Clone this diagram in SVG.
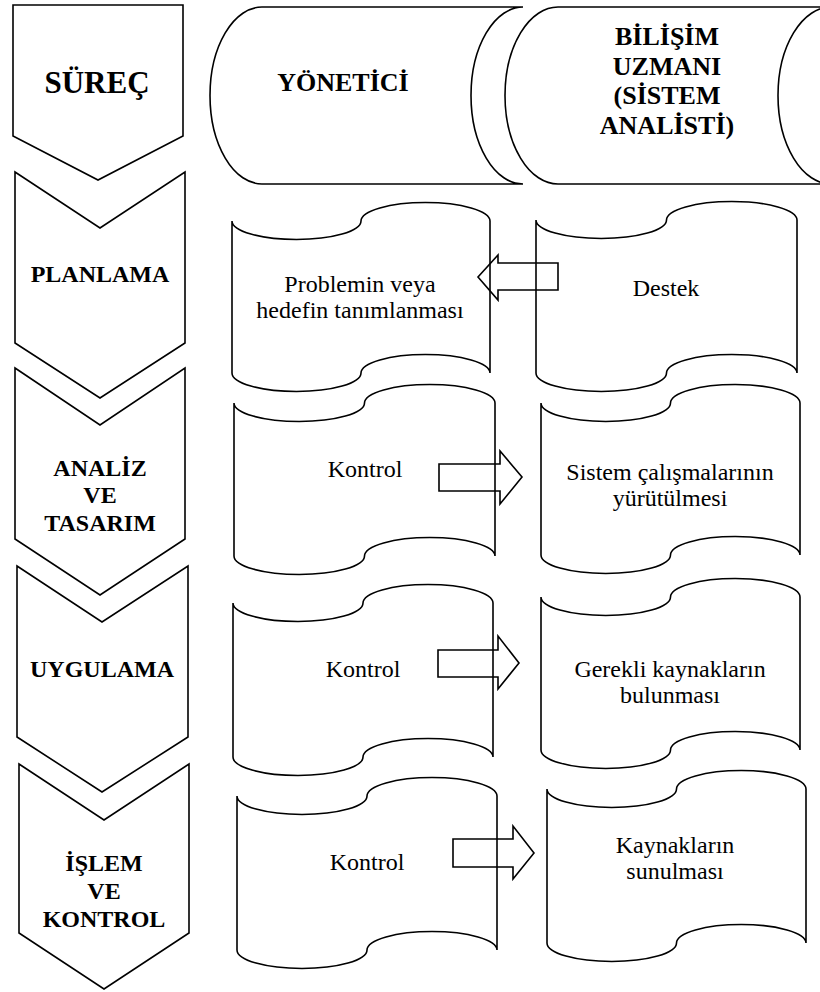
<svg xmlns="http://www.w3.org/2000/svg" width="820" height="992" viewBox="0 0 820 992">
<style>
.s{fill:none;stroke:#000;stroke-width:1.6;stroke-linejoin:miter}
.h{font-family:"Liberation Serif","Times New Roman",serif;font-weight:bold;fill:#000;text-anchor:middle}
.c{font-size:24px}
.t{font-family:"Liberation Serif","Times New Roman",serif;font-size:24px;fill:#000;text-anchor:middle}
</style>
<rect width="820" height="992" fill="#fff"/>
<g id="surec">
<path class="s" d="M13,5 H183 V136 L98,180 L13,136 Z"/>
<text class="h" x="97" y="93" font-size="31">SÜREÇ</text>
</g>
<g id="yonetici">
<path class="s" d="M262,7 H523 A52,88.5 0 0 0 523,184 H262 A52,88.5 0 0 1 262,7 Z"/>
<text class="h" x="343" y="91" font-size="26">YÖNETİCİ</text>
</g>
<g id="bilisim">
<path class="s" d="M558,7 H831 A53,88.5 0 0 0 831,184 H558 A53,88.5 0 0 1 558,7 Z"/>
<text class="h" font-size="26" x="667" y="45">BİLİŞİM</text>
<text class="h" font-size="26" x="667" y="74.5">UZMANI</text>
<text class="h" font-size="26" x="667" y="104">(SİSTEM</text>
<text class="h" font-size="26" x="667" y="133.5">ANALİSTİ)</text>
</g>
<g id="planlama">
<path class="s" d="M15,172 L100,228 L185,172 V343 L100,398 L15,343 Z"/>
<text class="h c" x="100" y="282">PLANLAMA</text>
</g>
<g id="analiz">
<path class="s" d="M15,368 L100,425 L185,368 V539 L100,595 L15,539 Z"/>
<text class="h c" x="100" y="476">ANALİZ</text>
<text class="h c" x="100" y="503">VE</text>
<text class="h c" x="100" y="531">TASARIM</text>
</g>
<g id="uygulama">
<path class="s" d="M17,566 L102,622 L188,566 V737 L102,792 L17,737 Z"/>
<text class="h c" x="102" y="677">UYGULAMA</text>
</g>
<g id="islem">
<path class="s" d="M19,764 L104,820 L189,764 V933 L104,989 L19,933 Z"/>
<text class="h c" x="104" y="871">İŞLEM</text>
<text class="h c" x="104" y="899">VE</text>
<text class="h c" x="104" y="927">KONTROL</text>
</g>
<g id="problem">
<path class="s" d="M232,221 A64.5,18.5 0 0 0 361,221 A64.5,18.5 0 0 1 490,221 V373 A64.5,18.5 0 0 0 361,373 A64.5,18.5 0 0 1 232,373 Z"/>
<text class="t" x="360" y="292">Problemin veya</text>
<text class="t" x="360" y="318">hedefin tanımlanması</text>
</g>
<g id="destek">
<path class="s" d="M536,220 A65.25,18.5 0 0 0 666.5,220 A65.25,18.5 0 0 1 797,220 V373 A65.25,18.5 0 0 0 666.5,373 A65.25,18.5 0 0 1 536,373 Z"/>
<text class="t" x="666" y="296">Destek</text>
</g>
<g id="kontrol1">
<path class="s" d="M234,403 A65.25,18.5 0 0 0 364.5,403 A65.25,18.5 0 0 1 495,403 V556 A65.25,18.5 0 0 0 364.5,556 A65.25,18.5 0 0 1 234,556 Z"/>
<text class="t" x="365" y="477">Kontrol</text>
</g>
<g id="sistem">
<path class="s" d="M541,403 A64.75,18.5 0 0 0 670.5,403 A64.75,18.5 0 0 1 800,403 V555 A64.75,18.5 0 0 0 670.5,555 A64.75,18.5 0 0 1 541,555 Z"/>
<text class="t" x="670" y="480">Sistem çalışmalarının</text>
<text class="t" x="670" y="506">yürütülmesi</text>
</g>
<g id="kontrol2">
<path class="s" d="M233,603 A65,18.5 0 0 0 363,603 A65,18.5 0 0 1 493,603 V757 A65,18.5 0 0 0 363,757 A65,18.5 0 0 1 233,757 Z"/>
<text class="t" x="363" y="677">Kontrol</text>
</g>
<g id="gerekli">
<path class="s" d="M541,597 A64.75,18.5 0 0 0 670.5,597 A64.75,18.5 0 0 1 800,597 V750 A64.75,18.5 0 0 0 670.5,750 A64.75,18.5 0 0 1 541,750 Z"/>
<text class="t" x="670" y="677">Gerekli kaynakların</text>
<text class="t" x="670" y="703">bulunması</text>
</g>
<g id="kontrol3">
<path class="s" d="M237,796 A65,18.5 0 0 0 367,796 A65,18.5 0 0 1 497,796 V950 A65,18.5 0 0 0 367,950 A65,18.5 0 0 1 237,950 Z"/>
<text class="t" x="367" y="870">Kontrol</text>
</g>
<g id="kaynak">
<path class="s" d="M547,789 A64.75,18.5 0 0 0 676.5,789 A64.75,18.5 0 0 1 806,789 V943 A64.75,18.5 0 0 0 676.5,943 A64.75,18.5 0 0 1 547,943 Z"/>
<text class="t" x="675" y="853">Kaynakların</text>
<text class="t" x="675" y="879">sunulması</text>
</g>
<g id="connectors">
<path class="s" d="M558,263 H498 V255 L478,277 L498,300 V290 H558 Z"/>
<path class="s" d="M439,464 H500 V451 L522,477 L500,504 V491 H439 Z"/>
<path class="s" d="M438,650 H498 V636 L519,663 L498,689 V677 H438 Z"/>
<path class="s" d="M453,839 H513 V826 L534,853 L513,879 V867 H453 Z"/>
</g>
</svg>
